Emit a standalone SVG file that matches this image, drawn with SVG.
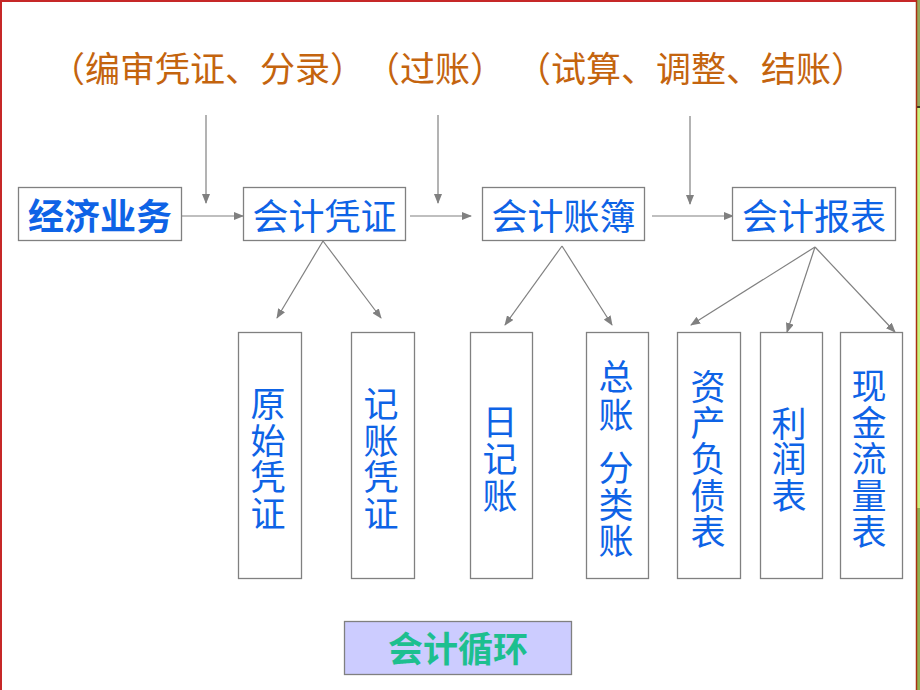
<svg xmlns="http://www.w3.org/2000/svg" width="920" height="690" viewBox="0 0 920 690">
<defs>
<marker id="ah" markerUnits="userSpaceOnUse" markerWidth="10" markerHeight="8" refX="9" refY="4" orient="auto">
<path d="M0,0 L10,4 L0,8 z" fill="#808080"/>
</marker>
<style>
text{text-spacing-trim:space-all}
.box{fill:#ffffff;stroke:#808080;stroke-width:1.3}
.lbl{font-family:"Noto Sans CJK SC","Noto Sans",sans-serif;fill:#0e63e6;text-anchor:middle}
.h{font-size:36px}
.v{font-size:35px}
.top{font-family:"Noto Sans CJK SC","Noto Sans",sans-serif;font-size:35px;fill:#c4640e}
.edge{stroke:#808080;stroke-width:1.2;fill:none;marker-end:url(#ah)}
</style>
</defs>
<rect x="0" y="0" width="920" height="690" fill="#ffffff"/>
<g id="frame">
<line x1="1" y1="0" x2="1" y2="690" stroke="#c62828" stroke-width="2"/>
<line x1="0" y1="1" x2="917" y2="1" stroke="#c62828" stroke-width="2"/>
<rect x="917" y="0" width="3" height="106" fill="#93a85a"/>
<rect x="917" y="106" width="3" height="2" fill="#3a3a20"/>
<rect x="917" y="108" width="3" height="400" fill="#c9f07c"/>
<rect x="917" y="508" width="3" height="182" fill="#8fb050"/>
<line x1="916.5" y1="0" x2="916.5" y2="690" stroke="#a83212" stroke-width="1.5"/>
</g>
<g id="steps">
<text class="top" x="50" y="82">（编审凭证、分录）</text>
<text class="top" x="365" y="82">（过账）</text>
<text class="top" x="516" y="82">（试算、调整、结账）</text>
</g>
<g id="connectors">
<line class="edge" x1="206" y1="115" x2="206" y2="203"/>
<line class="edge" x1="438" y1="115" x2="438" y2="203"/>
<line class="edge" x1="690" y1="116" x2="690" y2="204"/>
<line class="edge" x1="182" y1="216" x2="243" y2="216"/>
<line class="edge" x1="410" y1="216" x2="471" y2="216"/>
<line class="edge" x1="652" y1="216" x2="733" y2="216"/>
<line class="edge" x1="323" y1="241" x2="277" y2="318"/>
<line class="edge" x1="323" y1="241" x2="381" y2="318"/>
<line class="edge" x1="562" y1="246" x2="505" y2="325"/>
<line class="edge" x1="562" y1="246" x2="612" y2="325"/>
<line class="edge" x1="815" y1="247" x2="691" y2="325"/>
<line class="edge" x1="815" y1="247" x2="787" y2="332"/>
<line class="edge" x1="815" y1="247" x2="895" y2="332"/>
</g>
<g id="n-jingji">
<rect class="box" x="18.5" y="187.5" width="163" height="53"/>
<text class="lbl h" x="100" y="230" font-weight="bold">经济业务</text>
</g>
<g id="n-pingzheng">
<rect class="box" x="243.5" y="187.5" width="162" height="53"/>
<text class="lbl h" x="324.5" y="230">会计凭证</text>
</g>
<g id="n-zhangbu">
<rect class="box" x="482.5" y="187.5" width="162" height="53"/>
<text class="lbl h" x="563.5" y="230">会计账簿</text>
</g>
<g id="n-baobiao">
<rect class="box" x="732.5" y="187.5" width="163" height="53"/>
<text class="lbl h" x="814" y="230">会计报表</text>
</g>
<g id="n-yuanshi">
<rect class="box" x="238.5" y="332.5" width="63" height="246"/>
<text class="lbl v"><tspan x="268" y="417">原</tspan><tspan x="268" y="454">始</tspan><tspan x="268" y="490">凭</tspan><tspan x="268" y="527">证</tspan></text>
</g>
<g id="n-jizhang">
<rect class="box" x="351.5" y="332.5" width="63" height="246"/>
<text class="lbl v"><tspan x="381" y="417">记</tspan><tspan x="381" y="454">账</tspan><tspan x="381" y="490">凭</tspan><tspan x="381" y="527">证</tspan></text>
</g>
<g id="n-rijizhang">
<rect class="box" x="470.5" y="332.5" width="62" height="246"/>
<text class="lbl v"><tspan x="500" y="435">日</tspan><tspan x="500" y="472">记</tspan><tspan x="500" y="509">账</tspan></text>
</g>
<g id="n-zongzhang">
<rect class="box" x="586.5" y="332.5" width="62" height="246"/>
<text class="lbl v"><tspan x="616" y="390">总</tspan><tspan x="616" y="428">账</tspan><tspan x="616" y="481">分</tspan><tspan x="616" y="518">类</tspan><tspan x="616" y="554">账</tspan></text>
</g>
<g id="n-zichan">
<rect class="box" x="677.5" y="332.5" width="63" height="246"/>
<text class="lbl v"><tspan x="708" y="400">资</tspan><tspan x="708" y="436">产</tspan><tspan x="708" y="472">负</tspan><tspan x="708" y="509">债</tspan><tspan x="708" y="545">表</tspan></text>
</g>
<g id="n-lirun">
<rect class="box" x="760.5" y="332.5" width="62" height="246"/>
<text class="lbl v"><tspan x="789" y="437">利</tspan><tspan x="789" y="472">润</tspan><tspan x="789" y="509">表</tspan></text>
</g>
<g id="n-xianjin">
<rect class="box" x="840.5" y="332.5" width="62" height="246"/>
<text class="lbl v"><tspan x="869" y="399">现</tspan><tspan x="869" y="436">金</tspan><tspan x="869" y="472">流</tspan><tspan x="869" y="509">量</tspan><tspan x="869" y="545">表</tspan></text>
</g>
<g id="n-xunhuan">
<rect x="344.5" y="621.5" width="227" height="53" fill="#ccccff" stroke="#808080" stroke-width="1.3"/>
<text x="458" y="662" font-family="'Noto Sans CJK SC','Noto Sans',sans-serif" font-size="35px" font-weight="bold" fill="#1dbf8f" text-anchor="middle">会计循环</text>
</g>
</svg>
